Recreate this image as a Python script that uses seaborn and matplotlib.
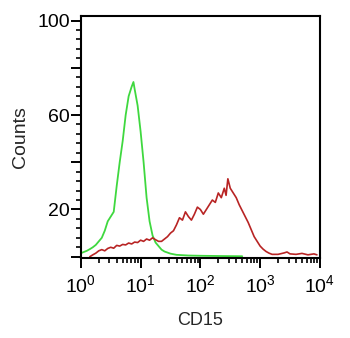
import seaborn as sns
import numpy as np
import matplotlib.pyplot as plt
import matplotlib.ticker as mticker
import pandas as pd

# readings: position in decades (log10 of CD15) and counts
green_log = [0.00, 0.05, 0.10, 0.15, 0.20, 0.25, 0.30, 0.35, 0.40, 0.45, 0.50, 0.55,
             0.60, 0.65, 0.70, 0.75, 0.80, 0.85, 0.88, 0.90, 0.95, 1.00, 1.05, 1.10,
             1.15, 1.20, 1.25, 1.30, 1.35, 1.40, 1.50, 1.60, 1.80, 2.00, 2.30, 2.70]
green_counts = [1.5, 2, 2.5, 3.2, 4, 5, 6.5, 8, 11, 15, 17, 19,
                30, 40, 49, 60, 68, 72, 74, 71, 64, 53, 40, 25,
                15, 9, 6, 4.5, 3, 2.2, 1.3, 0.8, 0.5, 0.4, 0.3, 0.2]

red_log = [0.15, 0.20, 0.25, 0.30, 0.35, 0.40, 0.45, 0.50, 0.55, 0.60, 0.65, 0.70,
           0.75, 0.80, 0.85, 0.90, 0.95, 1.00, 1.05, 1.10, 1.15, 1.20, 1.25, 1.30,
           1.35, 1.40, 1.45, 1.50, 1.55, 1.60, 1.65, 1.70, 1.75, 1.80, 1.85, 1.90,
           1.95, 2.00, 2.05, 2.10, 2.15, 2.20, 2.25, 2.30, 2.35, 2.40, 2.43, 2.46,
           2.50, 2.55, 2.60, 2.65, 2.70, 2.75, 2.80, 2.85, 2.90, 2.95, 3.00, 3.05,
           3.10, 3.15, 3.20, 3.30, 3.40, 3.45, 3.50, 3.60, 3.70, 3.80, 3.90, 3.95]
red_counts = [0, 0.8, 1.5, 2.5, 3, 2.5, 3.5, 4, 3.6, 4.8, 4.5, 5.2,
              5, 5.8, 5.4, 6.2, 6, 7, 6.5, 7.5, 7, 8, 7.2, 6.5,
              6.5, 7.5, 8.5, 10, 11, 13.5, 16.5, 15.5, 19, 17, 15.5, 18,
              21, 20, 18, 20, 22, 24, 23, 27, 25, 29, 26, 33,
              29, 27, 25, 22, 19.5, 17, 14.5, 11.5, 8.5, 6.5, 4.5, 3.2,
              2.2, 1.5, 1.0, 1.0, 1.6, 2.0, 1.2, 1.0, 1.4, 0.8, 1.2, 0.8]

y_labels = {20: "20", 60: "60", 100: "100"}

sns.set_style("ticks")
plt.rcParams['font.family'] = ['Liberation Sans', 'DejaVu Sans']
plt.rcParams['mathtext.fontset'] = 'custom'
plt.rcParams['mathtext.rm'] = 'Liberation Sans'
plt.rcParams['mathtext.it'] = 'Liberation Sans'

df_green = pd.DataFrame({"CD15": np.power(10.0, green_log), "Counts": green_counts})
df_red = pd.DataFrame({"CD15": np.power(10.0, red_log), "Counts": red_counts})

fig = plt.figure(figsize=(3.5, 3.38), dpi=100)
ax = fig.add_axes([0.231, 0.237, 0.683, 0.716])

sns.lineplot(data=df_green, x="CD15", y="Counts", color="#3fd83f", linewidth=1.3, ax=ax)
sns.lineplot(data=df_red, x="CD15", y="Counts", color="#b82424", linewidth=1.2, ax=ax)

ax.set_xscale("log")
ax.set_xlim(1, 1e4)
ax.set_ylim(-0.5, 102)

ax.xaxis.set_major_locator(mticker.LogLocator(base=10, numticks=10))
ax.xaxis.set_minor_locator(mticker.LogLocator(base=10, subs=np.arange(2, 10), numticks=10))
ax.xaxis.set_major_formatter(mticker.LogFormatterMathtext())
ax.xaxis.set_minor_formatter(mticker.NullFormatter())

ax.yaxis.set_major_locator(mticker.MultipleLocator(20))
ax.yaxis.set_minor_locator(mticker.MultipleLocator(4))
ax.yaxis.set_major_formatter(mticker.FuncFormatter(lambda v, p: y_labels.get(int(round(v)), "")))

for s in ax.spines.values():
    s.set_visible(True)
    s.set_linewidth(1.5)
    s.set_color("black")

ax.tick_params(axis="both", which="major", direction="out", length=7, width=1.4,
               labelsize=14, colors="black")
ax.tick_params(axis="x", which="major", pad=5)
ax.tick_params(axis="y", which="major", pad=1)
ax.tick_params(axis="both", which="minor", direction="out", length=3.5, width=1.2, colors="black")

ax.set_xlabel("CD15", fontsize=13, labelpad=11)
ax.set_ylabel("Counts", fontsize=14, labelpad=6)

plt.savefig("out.png", dpi=100)
